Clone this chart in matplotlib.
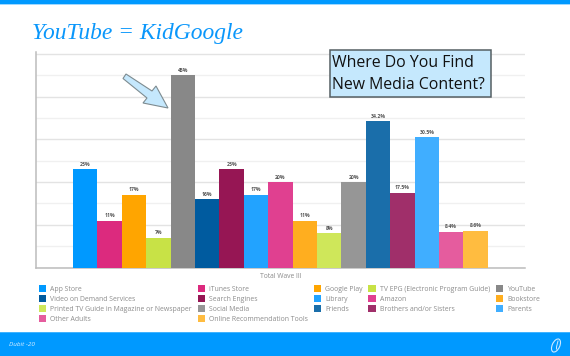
import matplotlib
matplotlib.use("Agg")
import matplotlib.pyplot as plt
from matplotlib.patches import Polygon, Rectangle, Ellipse

W, H = 570, 356

categories = ["App Store", "iTunes Store", "Google Play", "TV EPG (Electronic Program Guide)", "YouTube",
              "Video on Demand Services", "Search Engines", "Library", "Amazon", "Bookstore",
              "Printed TV Guide in Magazine or Newspaper", "Social Media", "Friends", "Brothers and/or Sisters",
              "Parents", "Other Adults", "Online Recommendation Tools"]
values = [23, 11, 17, 7, 45, 16, 23, 17, 20, 11, 8, 20, 34.2, 17.5, 30.5, 8.4, 8.6]
labels = ["23%", "11%", "17%", "7%", "45%", "16%", "23%", "17%", "20%", "11%", "8%", "20%",
          "34.2%", "17.5%", "30.5%", "8.4%", "8.6%"]
colors = ["#0099ff", "#dc2a7e", "#ffa500", "#c8e246", "#888888", "#005b9f", "#961654", "#22a3ff", "#e04090",
          "#ffae1f", "#cfe75a", "#969696", "#1a6eaa", "#a02f6a", "#40aeff", "#e55c9e", "#ffbc40"]
legend_order = [0, 5, 10, 15, 1, 6, 11, 16, 2, 7, 12, 3, 8, 13, 4, 9, 14]

fig = plt.figure(figsize=(W / 100, H / 100), dpi=100, facecolor="white")

# slide decoration, in pixel coordinates
bg = fig.add_axes([0, 0, 1, 1], zorder=0)
bg.set_xlim(0, W); bg.set_ylim(H, 0); bg.axis("off")
bg.add_patch(Rectangle((0, 0), W, 4, fc="#0099ff", ec="none"))
bg.add_patch(Rectangle((0, 4), W, 1, fc="#9fd8ff", ec="none"))
bg.add_patch(Rectangle((0, 332), W, 24, fc="#0099ff", ec="none"))
bg.add_patch(Rectangle((0, 332), W, 1, fc="#40b3ff", ec="none"))
bg.text(32, 33.5, "YouTube = KidGoogle", family="Liberation Serif", style="italic", fontsize=16.9,
        color="#0a97fb", va="center", ha="left")
bg.text(9, 344.5, "Dubit -20", family="Open Sans", style="italic", fontsize=4.6, color="#d8efff",
        va="center", ha="left")
bg.add_patch(Ellipse((556, 345.5), 7.5, 14, angle=25, fc="none", ec="#cfeaff", lw=0.8))
bg.plot([558, 556.5, 556.5], [341, 347, 349], color="#cfeaff", lw=0.7)

# chart
L, R, T, B = 36, 525, 52.3, 267.5
ax = fig.add_axes([L / W, 1 - B / H, (R - L) / W, (B - T) / H], zorder=1)
ax.patch.set_alpha(0)
bw = 24.4
xs = list(range(len(values)))
ax.set_xlim(-0.5 - (73 - L) / bw, -0.5 - (73 - L) / bw + (R - L) / bw)
ax.set_ylim(0, (B - T) / 4.27)
bars = ax.bar(xs, values, width=1.0, color=colors, edgecolor="none", label="_nolegend_", zorder=3)
for x, v, s in zip(xs, values, labels):
    ax.annotate(s, (x, v), xytext=(0, 1.8), textcoords="offset points", ha="center", va="bottom",
                fontsize=3.7, fontweight="bold", family="Open Sans", color="#555555", zorder=4)
ax.set_yticks(range(0, 55, 5))
ax.set_xticks([])
ax.tick_params(axis="y", length=0, labelleft=False)
ax.set_axisbelow(True)
ax.grid(axis="y", lw=1.0)
for i, g in enumerate(ax.get_ygridlines()):
    g.set_color("#e3e3e3" if i % 2 == 0 else "#f0f0f0")
for s in ("top", "right"):
    ax.spines[s].set_visible(False)
for s in ("left", "bottom"):
    ax.spines[s].set_color("#bcbcbc")
    ax.spines[s].set_linewidth(1.1)
ax.set_xlabel("Total Wave III", family="Open Sans", fontsize=4.9, color="#8a8a8a", labelpad=3.8)

handles = [bars[i] for i in legend_order]
names = [categories[i] for i in legend_order]
leg = fig.legend(handles, names, ncol=5, loc="upper left", bbox_to_anchor=(38.7 / W, 1 - 285.3 / H),
                 bbox_transform=fig.transFigure, frameon=False, borderpad=0, borderaxespad=0,
                 handlelength=1.1, handleheight=1.1, handletextpad=0.55, columnspacing=0.85, labelspacing=0.34,
                 prop={"family": "Open Sans", "size": 4.95}, labelcolor="#8c8c8c")

# callouts above the chart
top = fig.add_axes([0, 0, 1, 1], zorder=2)
top.set_xlim(0, W); top.set_ylim(H, 0); top.axis("off"); top.patch.set_alpha(0)
top.add_patch(Polygon([(123, 78.5), (126, 74), (152, 91), (156, 86), (168, 108), (143, 103), (147, 98)],
                      closed=True, fc="#c5e8fd", ec="#7d8b90", lw=0.8))
top.add_patch(Rectangle((330, 50), 161, 47, fc="#c5e8fd", ec="#555f63", lw=1.1))
top.text(332, 63, "Where Do You Find", family="Open Sans", fontsize=11.4, color="#111111", va="center")
top.text(332, 85, "New Media Content?", family="Open Sans", fontsize=11.4, color="#111111", va="center")

fig.savefig("out.png", dpi=100)
